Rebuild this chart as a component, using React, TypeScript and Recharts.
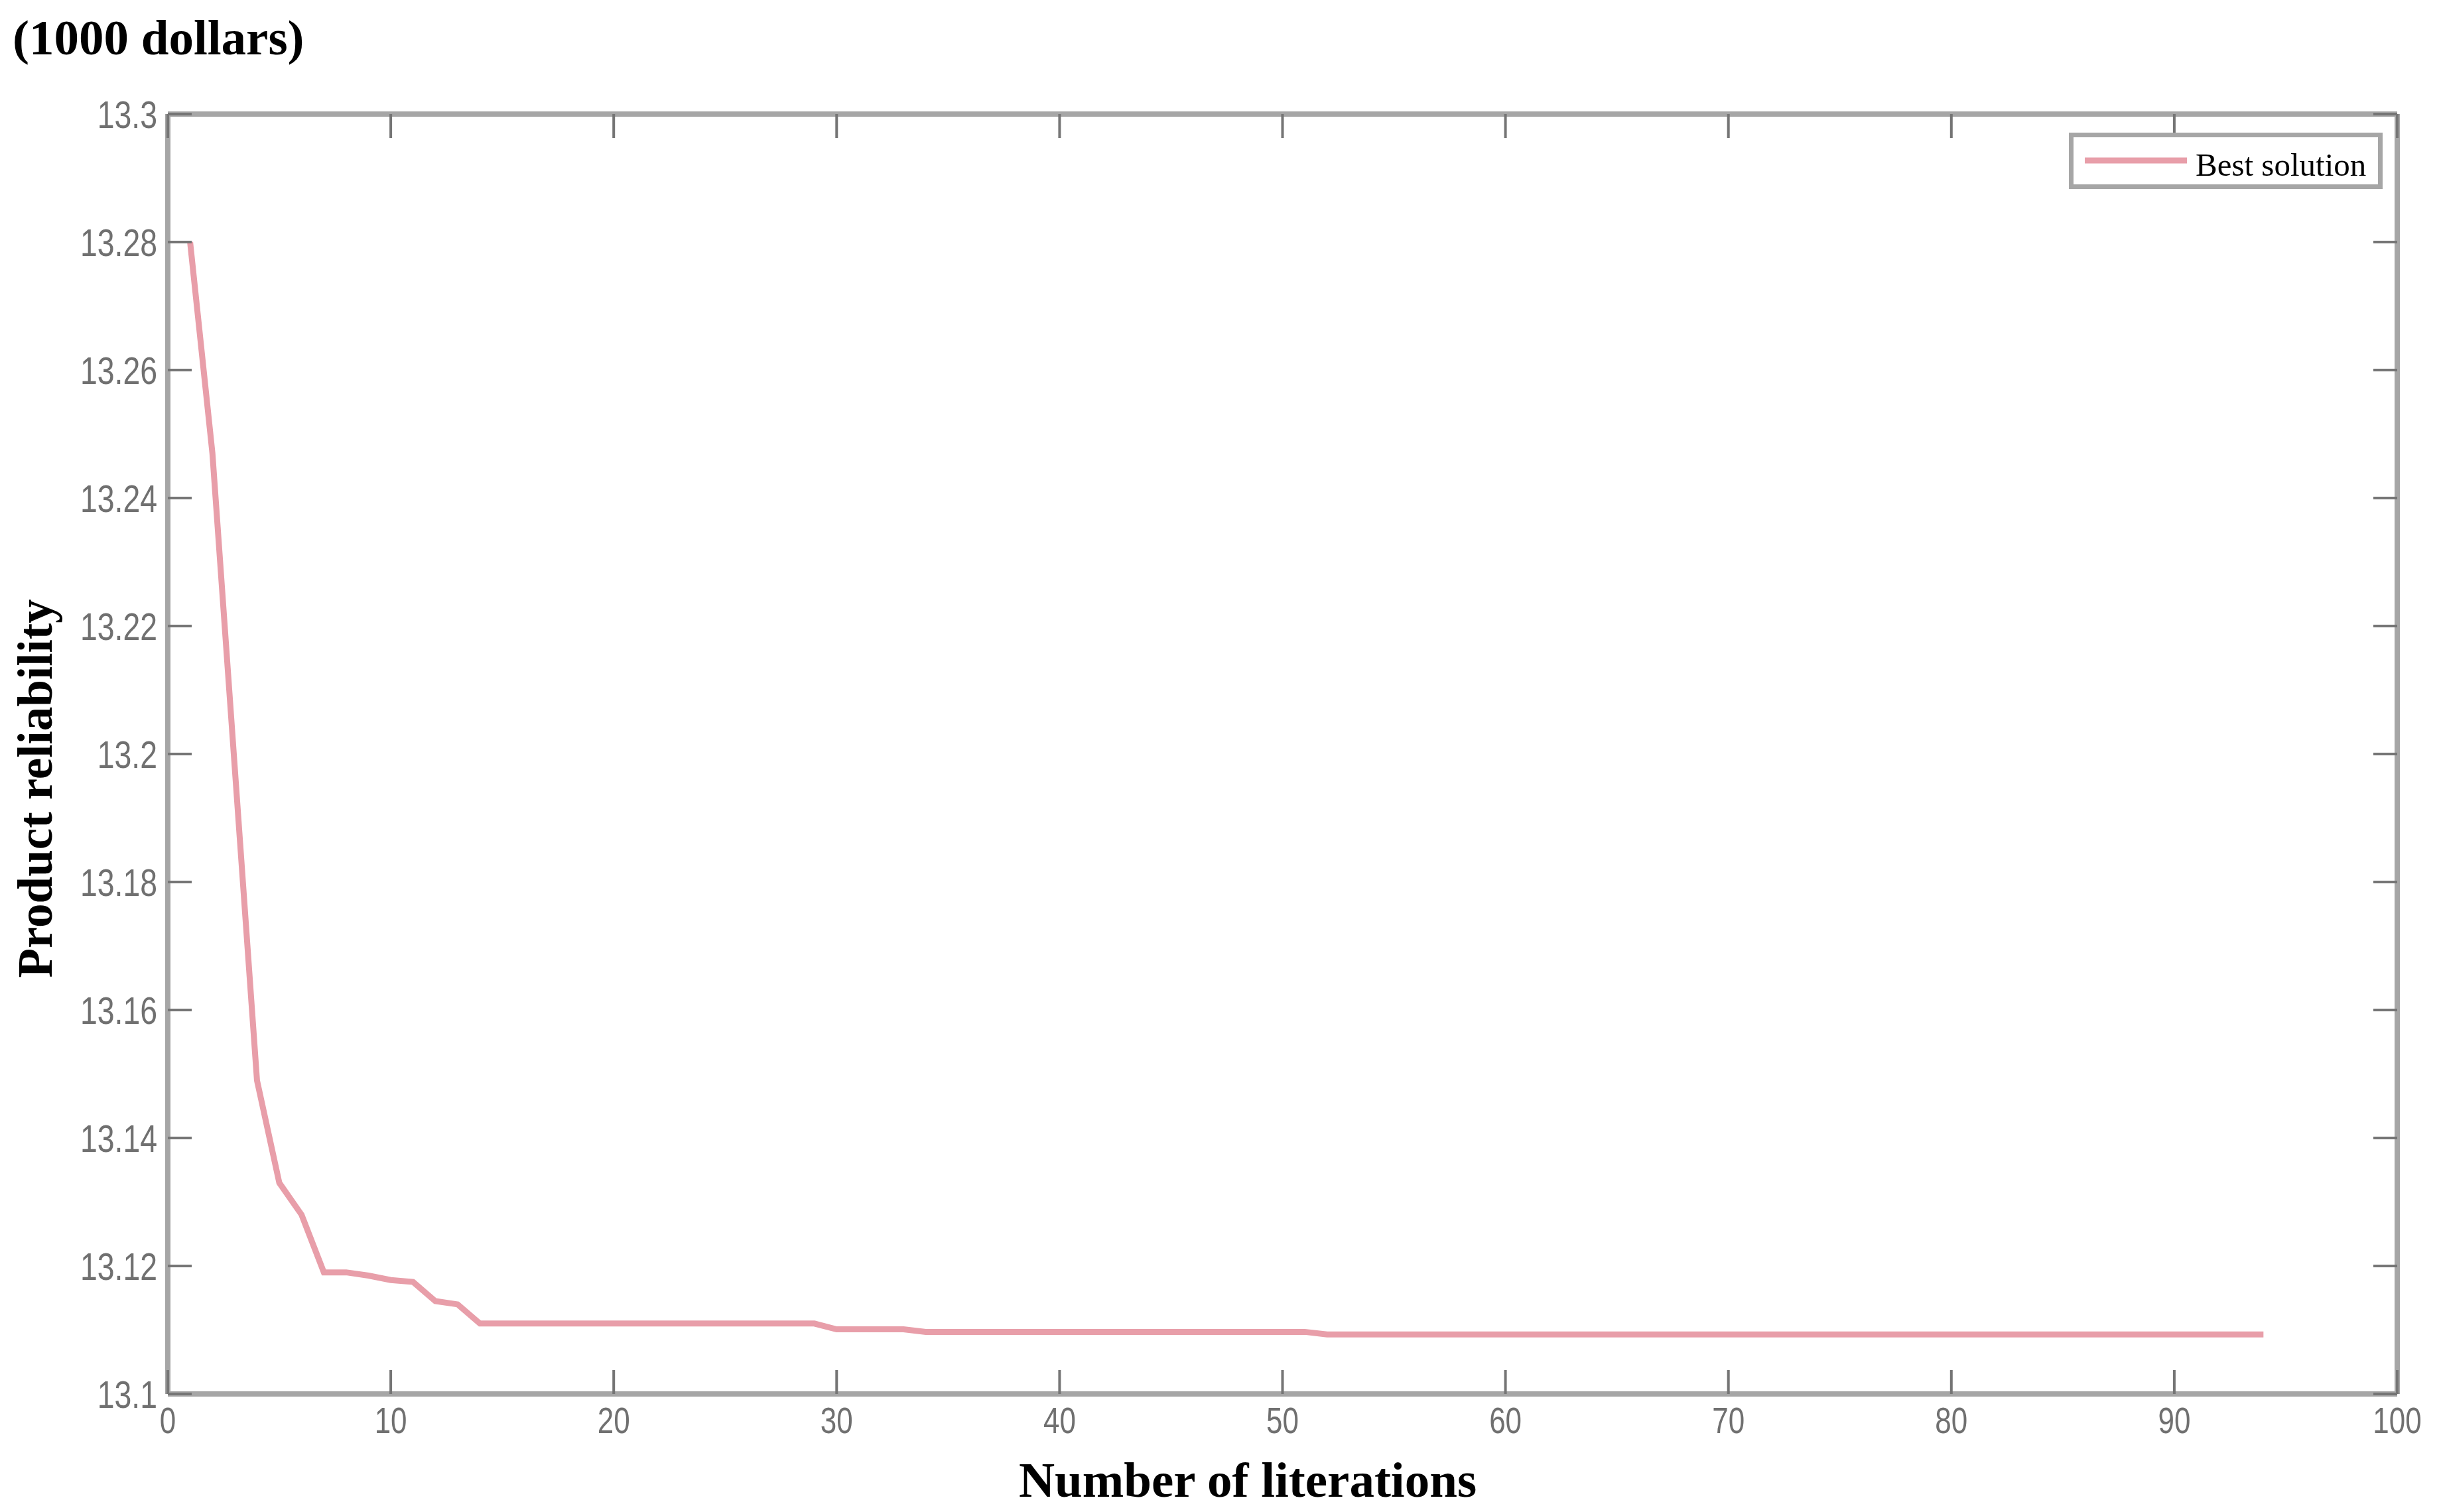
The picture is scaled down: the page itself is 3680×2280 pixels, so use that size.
import React from 'react';
import { LineChart, Line, XAxis, YAxis, Legend } from 'recharts';

const iterations: number[] = [
  1, 2, 3, 4, 5, 6, 7, 8, 9, 10, 11, 12, 13, 14, 15, 16, 17, 18, 19, 20,
  21, 22, 23, 24, 25, 26, 27, 28, 29, 30, 31, 32, 33, 34, 35, 36, 37, 38, 39, 40,
  41, 42, 43, 44, 45, 46, 47, 48, 49, 50, 51, 52, 53, 54, 55, 56, 57, 58, 59, 60,
  61, 62, 63, 64, 65, 66, 67, 68, 69, 70, 71, 72, 73, 74, 75, 76, 77, 78, 79, 80,
  81, 82, 83, 84, 85, 86, 87, 88, 89, 90, 91, 92, 93, 94,
];

const bestSolution: number[] = [
  13.28, 13.247, 13.198, 13.149, 13.133, 13.128, 13.119, 13.119, 13.1185, 13.1178,
  13.1175, 13.1145, 13.114, 13.111, 13.111, 13.111, 13.111, 13.111, 13.111, 13.111,
  13.111, 13.111, 13.111, 13.111, 13.111, 13.111, 13.111, 13.111, 13.111, 13.1101,
  13.1101, 13.1101, 13.1101, 13.1097, 13.1097, 13.1097, 13.1097, 13.1097, 13.1097, 13.1097,
  13.1097, 13.1097, 13.1097, 13.1097, 13.1097, 13.1097, 13.1097, 13.1097, 13.1097, 13.1097,
  13.1097, 13.1093, 13.1093, 13.1093, 13.1093, 13.1093, 13.1093, 13.1093, 13.1093, 13.1093,
  13.1093, 13.1093, 13.1093, 13.1093, 13.1093, 13.1093, 13.1093, 13.1093, 13.1093, 13.1093,
  13.1093, 13.1093, 13.1093, 13.1093, 13.1093, 13.1093, 13.1093, 13.1093, 13.1093, 13.1093,
  13.1093, 13.1093, 13.1093, 13.1093, 13.1093, 13.1093, 13.1093, 13.1093, 13.1093, 13.1093,
  13.1093, 13.1093, 13.1093, 13.1093,
];

const xTicks: number[] = [0, 10, 20, 30, 40, 50, 60, 70, 80, 90, 100];
const yTicks: number[] = [13.1, 13.12, 13.14, 13.16, 13.18, 13.2, 13.22, 13.24, 13.26, 13.28, 13.3];

const seriesName = 'Best solution';
const titleText = '(1000 dollars)';
const yLabelText = 'Product reliability';
const xLabelText = 'Number of literations';

const data = iterations.map((it, i) => ({ x: it, v: bestSolution[i] }));

const TICK_FONT = '"Liberation Sans", Arial, sans-serif';
const SERIF = '"Liberation Serif", "Times New Roman", serif';
const TICK_COLOR = '#707070';
const TICK_LINE = '#757575';
const AXIS_COLOR = '#a6a6a6';
const LINE_COLOR = '#e89ea9';
const TICK_LEN = 36;

const fmt = (v: number) => String(Number(v.toFixed(2)));

const BottomTick = (props: any) => {
  const { x, y, payload } = props;
  return (
    <g>
      <line x1={x} x2={x} y1={y} y2={y - TICK_LEN} stroke={TICK_LINE} strokeWidth={4} />
      <text
        transform={`translate(${x},${y + 59}) scale(0.8,1)`}
        textAnchor="middle"
        fontFamily={TICK_FONT}
        fontSize={55}
        fill={TICK_COLOR}
      >
        {fmt(payload.value)}
      </text>
    </g>
  );
};

const TopTick = (props: any) => {
  const { x, y } = props;
  return <line x1={x} x2={x} y1={y} y2={y + TICK_LEN} stroke={TICK_LINE} strokeWidth={4} />;
};

const LeftTick = (props: any) => {
  const { x, y, payload } = props;
  return (
    <g>
      <line x1={x} x2={x + TICK_LEN} y1={y} y2={y} stroke={TICK_LINE} strokeWidth={4} />
      <text
        transform={`translate(${x - 16},${y + 21}) scale(0.8,1)`}
        textAnchor="end"
        fontFamily={TICK_FONT}
        fontSize={58}
        fill={TICK_COLOR}
      >
        {fmt(payload.value)}
      </text>
    </g>
  );
};

const RightTick = (props: any) => {
  const { x, y } = props;
  return <line x1={x} x2={x - TICK_LEN} y1={y} y2={y} stroke={TICK_LINE} strokeWidth={4} />;
};

const renderLegend = () => (
  <div
    style={{
      boxSizing: 'border-box',
      width: 473,
      height: 85,
      border: `7px solid ${AXIS_COLOR}`,
      background: '#fff',
    }}
  >
    <svg width={459} height={71} style={{ display: 'block' }}>
      <line x1={17} x2={171} y1={35} y2={35} stroke={LINE_COLOR} strokeWidth={9} />
      <text x={184} y={58} fontFamily={SERIF} fontSize={49} fill="#000">
        {seriesName}
      </text>
    </svg>
  </div>
);

const YLabels = () => (
  <g>
    <text x={19} y={82} fontFamily={SERIF} fontWeight="bold" fontSize={75} fill="#000">
      {titleText}
    </text>
    <text
      x={78}
      y={1189}
      transform="rotate(-90 78 1189)"
      textAnchor="middle"
      fontFamily={SERIF}
      fontWeight="bold"
      fontSize={73}
      fill="#000"
    >
      {yLabelText}
    </text>
  </g>
);

const XLabel = () => (
  <text x={1881} y={2257} textAnchor="middle" fontFamily={SERIF} fontWeight="bold" fontSize={75} fill="#000">
    {xLabelText}
  </text>
);

export default function App() {
  return (
    <div style={{ position: 'absolute', left: 0, top: 0, width: 3680, height: 2280, background: '#fff' }}>
      <LineChart
        width={3680}
        height={2280}
        data={data}
        margin={{ top: 171, right: 65, bottom: 78, left: 133 }}
      >
        <XAxis
          xAxisId="b"
          dataKey="x"
          type="number"
          domain={[0, 100]}
          ticks={xTicks}
          allowDataOverflow
          height={100}
          tickSize={0}
          tickMargin={0}
          tickLine={false}
          axisLine={{ stroke: AXIS_COLOR, strokeWidth: 8 }}
          tick={BottomTick}
          interval={0}
          label={<XLabel />}
        />
        <XAxis
          xAxisId="t"
          orientation="top"
          dataKey="x"
          type="number"
          domain={[0, 100]}
          ticks={xTicks}
          allowDataOverflow
          height={1}
          tickSize={0}
          tickMargin={0}
          tickLine={false}
          axisLine={{ stroke: AXIS_COLOR, strokeWidth: 8 }}
          tick={TopTick}
          interval={0}
        />
        <YAxis
          yAxisId="l"
          type="number"
          domain={[13.1, 13.3]}
          ticks={yTicks}
          allowDataOverflow
          width={120}
          tickSize={0}
          tickMargin={0}
          tickLine={false}
          axisLine={{ stroke: AXIS_COLOR, strokeWidth: 8 }}
          tick={LeftTick}
          interval={0}
          label={<YLabels />}
        />
        <YAxis
          yAxisId="r"
          orientation="right"
          type="number"
          domain={[13.1, 13.3]}
          ticks={yTicks}
          allowDataOverflow
          width={1}
          tickSize={0}
          tickMargin={0}
          tickLine={false}
          axisLine={{ stroke: AXIS_COLOR, strokeWidth: 8 }}
          tick={RightTick}
          interval={0}
        />
        <Legend
          layout="vertical"
          align="center"
          verticalAlign="middle"
          content={renderLegend}
          wrapperStyle={{ position: 'absolute', left: 3119, top: 200, width: 473, height: 85 }}
        />
        <Line
          xAxisId="b"
          yAxisId="l"
          type="linear"
          dataKey="v"
          name={seriesName}
          stroke={LINE_COLOR}
          strokeWidth={9}
          dot={false}
          activeDot={false}
          isAnimationActive={false}
        />
      </LineChart>
    </div>
  );
}
